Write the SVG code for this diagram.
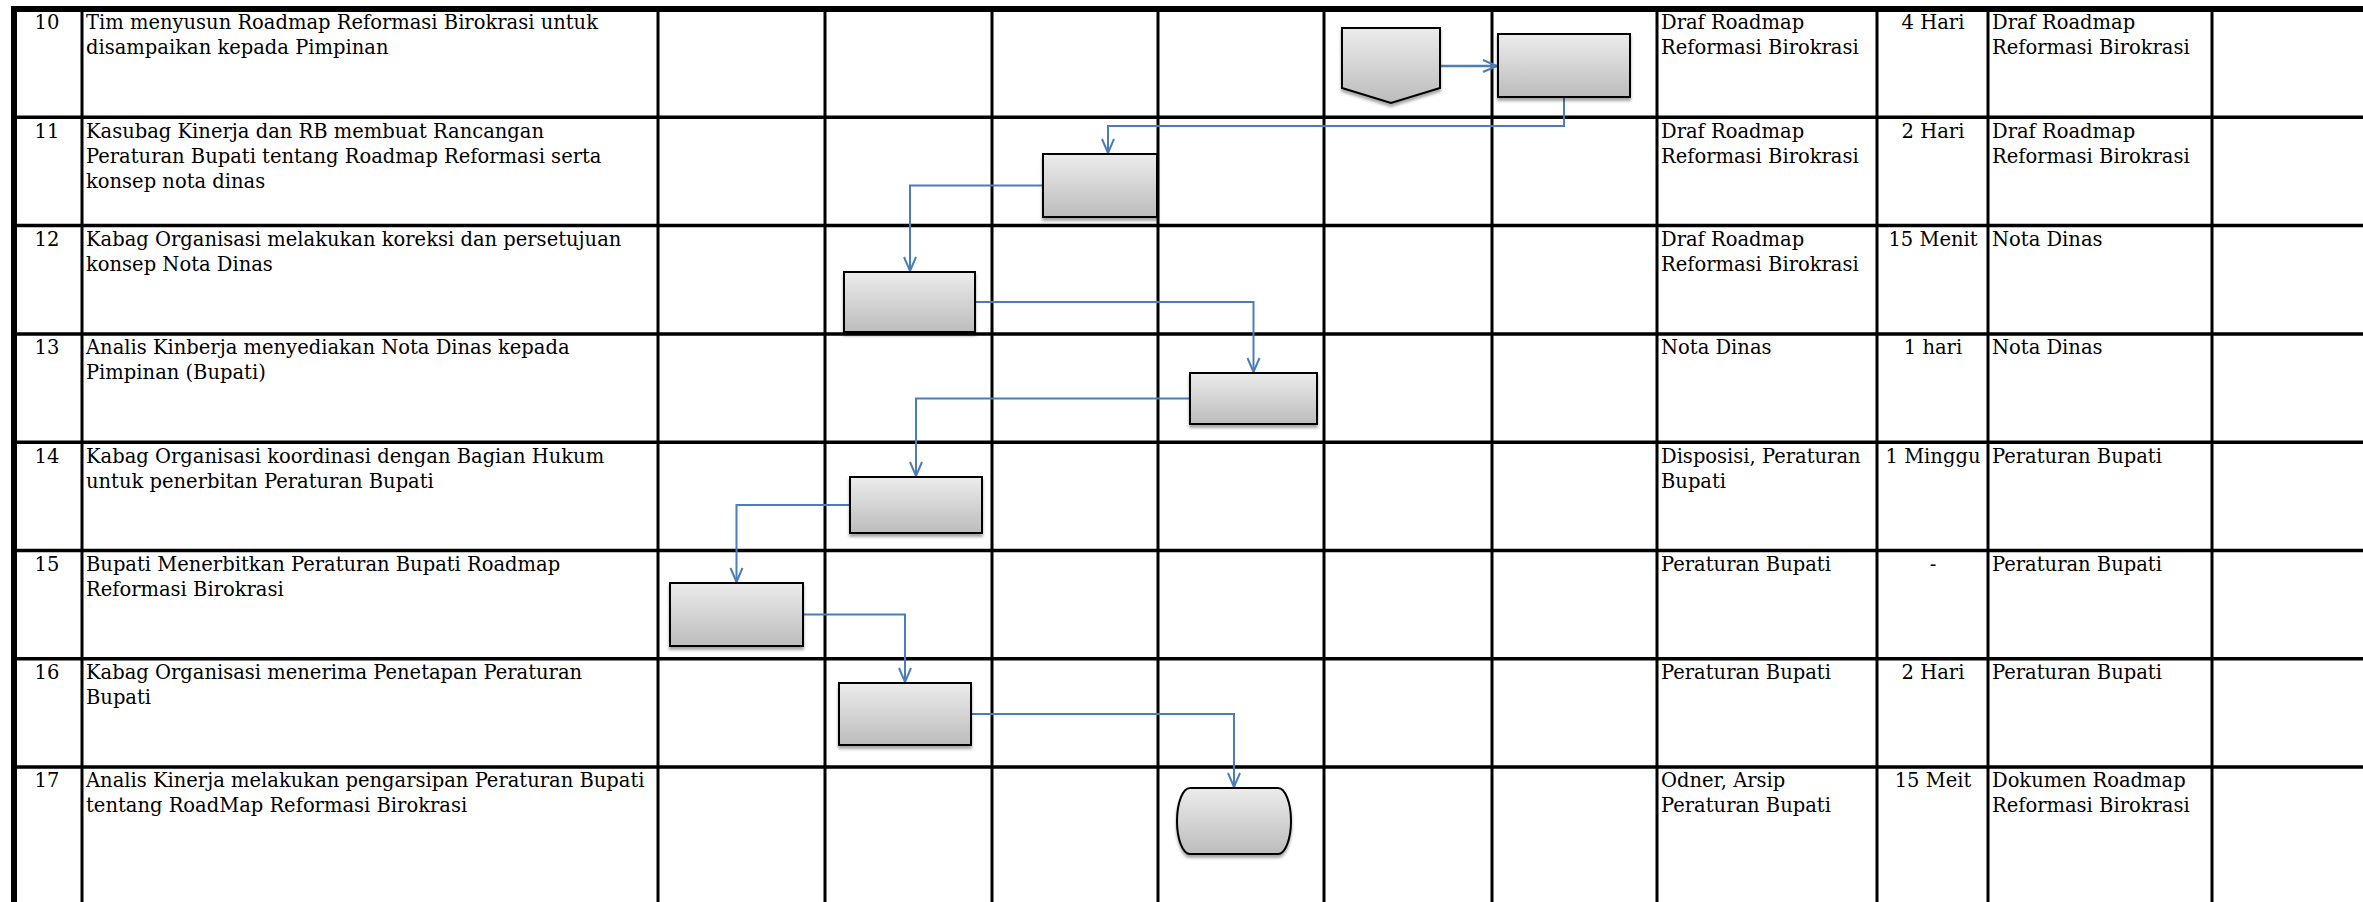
<svg xmlns="http://www.w3.org/2000/svg" width="2363" height="902" viewBox="0 0 2363 902">
<style>
.t{font-family:"DejaVu Serif","Liberation Serif",serif;font-size:19.5px;fill:#000}
.c{text-anchor:middle}
.v{stroke:#000;stroke-width:3;fill:none}
.h{stroke:#000;stroke-width:3.5;fill:none}
.shape{fill:url(#g);stroke:#000;stroke-width:2;filter:url(#sh)}
.con{fill:none;stroke:#4a7ebb;stroke-width:2;marker-end:url(#ah)}
</style>
<defs>
<linearGradient id="g" x1="0" y1="0" x2="0" y2="1">
<stop offset="0" stop-color="#ececec"/>
<stop offset="1" stop-color="#bcbcbc"/>
</linearGradient>
<filter id="sh" x="-10%" y="-10%" width="130%" height="140%">
<feGaussianBlur in="SourceAlpha" stdDeviation="1.5"/>
<feOffset dx="0" dy="3" result="o"/>
<feComponentTransfer><feFuncA type="linear" slope="0.35"/></feComponentTransfer>
<feMerge><feMergeNode/><feMergeNode in="SourceGraphic"/></feMerge>
</filter>
<marker id="ah" markerUnits="userSpaceOnUse" markerWidth="16" markerHeight="14" viewBox="0 0 16 14" refX="15" refY="7" orient="auto" overflow="visible">
<path d="M1,1 L15,7 L1,13" fill="none" stroke="#4a7ebb" stroke-width="2"/>
</marker>
</defs>
<rect width="2363" height="902" fill="#fff"/>
<g id="grid">
<rect x="11" y="6" width="2352" height="6" fill="#000"/>
<rect x="11" y="6" width="6" height="896" fill="#000"/>
<path class="v" d="M82,9V902M658,9V902M825,9V902M992,9V902M1158,9V902M1324,9V902M1492,9V902M1657,9V902M1877,9V902M1988,9V902M2212,9V902"/>
<path class="h" d="M14,117.3H2363M14,225.6H2363M14,333.9H2363M14,442.2H2363M14,550.5H2363M14,658.8H2363M14,767.1H2363"/>
</g>
<g id="texts" class="t">
<text class="t c" x="47" y="29">10</text>
<text class="t" x="86" y="29">Tim menyusun Roadmap Reformasi Birokrasi untuk</text>
<text class="t" x="86" y="54">disampaikan kepada Pimpinan</text>
<text class="t" x="1661" y="29">Draf Roadmap</text>
<text class="t" x="1661" y="54">Reformasi Birokrasi</text>
<text class="t c" x="1933" y="29">4 Hari</text>
<text class="t" x="1992" y="29">Draf Roadmap</text>
<text class="t" x="1992" y="54">Reformasi Birokrasi</text>

<text class="t c" x="47" y="137.5">11</text>
<text class="t" x="86" y="137.5">Kasubag Kinerja dan RB membuat Rancangan</text>
<text class="t" x="86" y="162.5">Peraturan Bupati tentang Roadmap Reformasi serta</text>
<text class="t" x="86" y="187.5">konsep nota dinas</text>
<text class="t" x="1661" y="137.5">Draf Roadmap</text>
<text class="t" x="1661" y="162.5">Reformasi Birokrasi</text>
<text class="t c" x="1933" y="137.5">2 Hari</text>
<text class="t" x="1992" y="137.5">Draf Roadmap</text>
<text class="t" x="1992" y="162.5">Reformasi Birokrasi</text>

<text class="t c" x="47" y="246">12</text>
<text class="t" x="86" y="246">Kabag Organisasi melakukan koreksi dan persetujuan</text>
<text class="t" x="86" y="271">konsep Nota Dinas</text>
<text class="t" x="1661" y="246">Draf Roadmap</text>
<text class="t" x="1661" y="271">Reformasi Birokrasi</text>
<text class="t c" x="1933" y="246">15 Menit</text>
<text class="t" x="1992" y="246">Nota Dinas</text>

<text class="t c" x="47" y="354">13</text>
<text class="t" x="86" y="354">Analis Kinberja menyediakan Nota Dinas kepada</text>
<text class="t" x="86" y="379">Pimpinan (Bupati)</text>
<text class="t" x="1661" y="354">Nota Dinas</text>
<text class="t c" x="1933" y="354">1 hari</text>
<text class="t" x="1992" y="354">Nota Dinas</text>

<text class="t c" x="47" y="462.5">14</text>
<text class="t" x="86" y="462.5">Kabag Organisasi koordinasi dengan Bagian Hukum</text>
<text class="t" x="86" y="487.5">untuk penerbitan Peraturan Bupati</text>
<text class="t" x="1661" y="462.5">Disposisi, Peraturan</text>
<text class="t" x="1661" y="487.5">Bupati</text>
<text class="t c" x="1933" y="462.5">1 Minggu</text>
<text class="t" x="1992" y="462.5">Peraturan Bupati</text>

<text class="t c" x="47" y="570.5">15</text>
<text class="t" x="86" y="570.5">Bupati Menerbitkan Peraturan Bupati Roadmap</text>
<text class="t" x="86" y="595.5">Reformasi Birokrasi</text>
<text class="t" x="1661" y="570.5">Peraturan Bupati</text>
<text class="t c" x="1933" y="570.5">-</text>
<text class="t" x="1992" y="570.5">Peraturan Bupati</text>

<text class="t c" x="47" y="679">16</text>
<text class="t" x="86" y="679">Kabag Organisasi menerima Penetapan Peraturan</text>
<text class="t" x="86" y="704">Bupati</text>
<text class="t" x="1661" y="679">Peraturan Bupati</text>
<text class="t c" x="1933" y="679">2 Hari</text>
<text class="t" x="1992" y="679">Peraturan Bupati</text>

<text class="t c" x="47" y="787">17</text>
<text class="t" x="86" y="787">Analis Kinerja melakukan pengarsipan Peraturan Bupati</text>
<text class="t" x="86" y="812">tentang RoadMap Reformasi Birokrasi</text>
<text class="t" x="1661" y="787">Odner, Arsip</text>
<text class="t" x="1661" y="812">Peraturan Bupati</text>
<text class="t c" x="1933" y="787">15 Meit</text>
<text class="t" x="1992" y="787">Dokumen Roadmap</text>
<text class="t" x="1992" y="812">Reformasi Birokrasi</text>
</g>
<g id="connectors">
<path class="con" style="stroke-width:2.6" d="M1440,66H1497"/>
<path class="con" d="M1564,97V126H1108V153"/>
<path class="con" d="M1043,185.5H910V271"/>
<path class="con" d="M975,302H1253.5V372"/>
<path class="con" d="M1190,398.5H916V476"/>
<path class="con" d="M850,505H736.5V582"/>
<path class="con" d="M803,614.5H905V682"/>
<path class="con" d="M971,714H1234V787"/>
</g>
<g id="n10a"><path class="shape" d="M1342,28H1440V88L1391,103L1342,88Z"/></g>
<g id="n10"><rect class="shape" x="1498" y="34" width="132" height="63"/></g>
<g id="n11"><rect class="shape" x="1043" y="154" width="114" height="63"/></g>
<g id="n12"><rect class="shape" x="844" y="272" width="131" height="60"/></g>
<g id="n13"><rect class="shape" x="1190" y="373" width="127" height="51"/></g>
<g id="n14"><rect class="shape" x="850" y="477" width="132" height="56"/></g>
<g id="n15"><rect class="shape" x="670" y="583" width="133" height="63"/></g>
<g id="n16"><rect class="shape" x="839" y="683" width="132" height="62"/></g>
<g id="n17"><rect class="shape" x="1177" y="788" width="114" height="66" rx="13" ry="33"/></g>
</svg>
